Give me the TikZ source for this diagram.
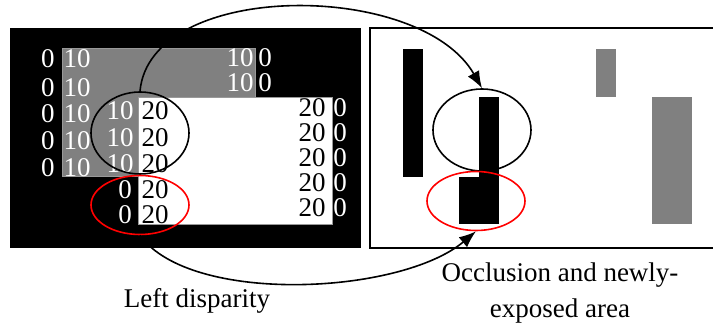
\documentclass[tikz,border=0pt]{standalone}
\usepackage{fontspec}
\setmainfont{Liberation Serif}
\usepackage{tikz}
\usetikzlibrary{shapes.geometric, arrows.meta}

\begin{document}
\begin{tikzpicture}[x=1pt, y=-1pt,
    every node/.style={anchor=center, inner sep=0pt, font=\fontsize{27}{36}\selectfont},
    wnum/.style={text=white},
    bnum/.style={text=black},
    occl/.style={ellipse, draw=black, line width=1.6pt, minimum width=98pt, minimum height=82pt},
    newl/.style={ellipse, draw=red, line width=1.6pt, minimum width=98pt, minimum height=59pt},
    link/.style={line width=1.6pt, -{Latex[length=17pt, width=13pt]}}]
    \useasboundingbox (0,0) rectangle (713,323);
    % Left disparity
    \fill[black] (10,28) rectangle (361,248);
    \filldraw[fill=gray, draw=gray!80] (62,48) rectangle (255,176);
    \filldraw[fill=white, draw=gray!80] (138,97) rectangle (332,224);
    \foreach \y [count=\i] in {59,88,114,141,168} {
        \node[wnum] (zl\i) at (48,\y) {0};
        \node[wnum] (tl\i) at (77,\y) {10};
    }
    \foreach \y [count=\i] in {58,83} {
        \node[wnum] (tr\i) at (240,\y) {10};
        \node[wnum] (zt\i) at (265,\y) {0};
    }
    \foreach \y [count=\i] in {111,138,164} {
        \node[wnum] (tc\i) at (120,\y) {10};
        \node[bnum] (wc\i) at (155,\y) {20};
    }
    \foreach \y [count=\i] in {190,215} {
        \node[wnum] (zb\i) at (125,\y) {0};
        \node[bnum] (wb\i) at (155,\y) {20};
    }
    \foreach \y [count=\i] in {108,133,158,183,208} {
        \node[bnum] (wr\i) at (312,\y) {20};
        \node[wnum] (zr\i) at (340,\y) {0};
    }
    \node[occl] (occL) at (140,133) {};
    \node[newl] (newL) at (140,205) {};
    % Occlusion map
    \draw[line width=2pt] (715,28) -- (370,28) -- (370,248) -- (715,248);
    \fill[black] (403,49) rectangle (423,177);
    \fill[black] (479,97) rectangle (499,224);
    \fill[black] (459,177) rectangle (499,224);
    \fill[gray] (596,49) rectangle (616,97);
    \fill[gray] (652,97) rectangle (692,224);
    \node[occl] (occR) at (482,130) {};
    \node[newl] (newR) at (476,201) {};
    % Fletxes
    \draw[link] (occL.north) .. controls (150,-20) and (420,-20) .. (occR.north);
    \draw[link] (newL.south) .. controls (190,305) and (400,295) .. (newR.south);
    % Etiquetes
    \node[anchor=base] (left) at (197,308) {Left disparity};
    \node[align=center, anchor=base] (occ) at (560,318) {Occlusion and newly-\\exposed area};
\end{tikzpicture}
\end{document}
